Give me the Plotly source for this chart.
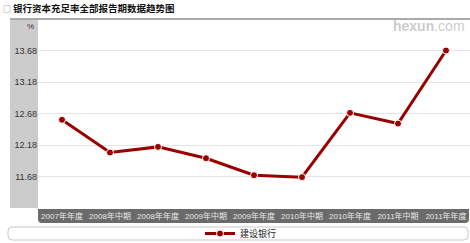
import plotly.graph_objects as go

categories = ["2007年年度", "2008年中期", "2008年年度", "2009年中期", "2009年年度",
              "2010年中期", "2010年年度", "2011年中期", "2011年年度"]
values = [12.58, 12.06, 12.15, 11.97, 11.70, 11.67, 12.69, 12.52, 13.68]
series_name = "建设银行"
y_ticks = [11.68, 12.18, 12.68, 13.18, 13.68]
title_text = "银行资本充足率全部报告期数据趋势图"

W, H = 470, 243
L, R, T, B = 38, 0, 19, 35
PW, PH = W - L - R, H - T - B

def px(x):
    return (x - L) / PW

def py(y):
    return (H - B - y) / PH

fig = go.Figure()
fig.add_trace(go.Scatter(
    x=categories, y=values, mode="lines+markers", name=series_name,
    line=dict(color="#990000", width=3),
    marker=dict(color="#990000", size=7, line=dict(color="white", width=1)),
))

shapes = []
# left gray panel
shapes.append(dict(type="rect", xref="paper", yref="paper", x0=px(10), x1=px(38), y0=py(208), y1=py(20),
                   fillcolor="#cccccc", line=dict(width=0), layer="below"))
# top line
shapes.append(dict(type="line", xref="paper", yref="paper", x0=px(10), x1=px(470), y0=py(19), y1=py(19),
                   line=dict(color="#aaaaaa", width=2)))
# dark band for x labels (rounded bottom corners)
x0, x1, y0, y1 = px(38), px(469), py(209), py(223)
rx, ry = 4 / PW, 4 / PH
band = (f"M {x0} {y0} L {x1} {y0} L {x1} {y1 + ry} Q {x1} {y1} {x1 - rx} {y1} "
        f"L {x0 + rx} {y1} Q {x0} {y1} {x0} {y1 + ry} Z")
shapes.append(dict(type="path", xref="paper", yref="paper", path=band,
                   fillcolor="#6a6a6a", line=dict(width=0), layer="below"))
# legend box
lx0, lx1, ly0, ly1 = px(8), px(468), py(227), py(240)
r2x, r2y = 4 / PW, 4 / PH
lbox = (f"M {lx0 + r2x} {ly0} L {lx1 - r2x} {ly0} Q {lx1} {ly0} {lx1} {ly0 - r2y} "
        f"L {lx1} {ly1 + r2y} Q {lx1} {ly1} {lx1 - r2x} {ly1} L {lx0 + r2x} {ly1} "
        f"Q {lx0} {ly1} {lx0} {ly1 + r2y} L {lx0} {ly0 - r2y} Q {lx0} {ly0} {lx0 + r2x} {ly0} Z")
shapes.append(dict(type="path", xref="paper", yref="paper", path=lbox,
                   fillcolor="white", line=dict(color="#c8c8c8", width=1), layer="below"))

annotations = [
    dict(text="□", xref="paper", yref="paper", x=px(1), y=py(8), xanchor="left", yanchor="middle",
         showarrow=False, font=dict(size=8, color="#666666", family="Noto Sans CJK SC")),
    dict(text="<b>" + title_text + "</b>", xref="paper", yref="paper", x=px(11), y=py(8),
         xanchor="left", yanchor="middle", showarrow=False,
         font=dict(size=9.5, color="#111111", family="Noto Sans CJK SC")),
    dict(text="%", xref="paper", yref="paper", x=px(36), y=py(26), xanchor="right", yanchor="middle",
         showarrow=False, font=dict(size=8, color="#333333", family="Arial")),
    dict(text="<b>hexun</b>.com", xref="paper", yref="paper", x=px(467), y=py(26), xanchor="right",
         yanchor="middle", showarrow=False, font=dict(size=14, color="#cccccc", family="Arial")),
]

fig.update_layout(
    width=W, height=H, margin=dict(l=L, r=R, t=T, b=B, autoexpand=False),
    paper_bgcolor="white", plot_bgcolor="white",
    showlegend=True,
    legend=dict(orientation="h", x=px(241), y=py(233.5), xanchor="center", yanchor="middle",
                font=dict(size=9, color="#222222", family="Noto Sans CJK SC"),
                bgcolor="rgba(0,0,0,0)", itemwidth=30),
    shapes=shapes, annotations=annotations,
    xaxis=dict(type="category", range=[-0.5, 8.5], showgrid=False, zeroline=False, showline=False,
               ticks="", tickangle=0,
               tickfont=dict(size=8, color="#e8e8e8", family="Arial, Noto Sans CJK SC"),
               ticklabelstandoff=2),
    yaxis=dict(range=[11.18, 14.18], tickvals=y_ticks, ticktext=[f"{v:.2f}" for v in y_ticks],
               showgrid=True, gridcolor="#e4e4e4", gridwidth=1, zeroline=False, showline=False,
               ticks="", tickfont=dict(size=9, color="#333333", family="Arial")),
)

fig.write_html("out.html")
